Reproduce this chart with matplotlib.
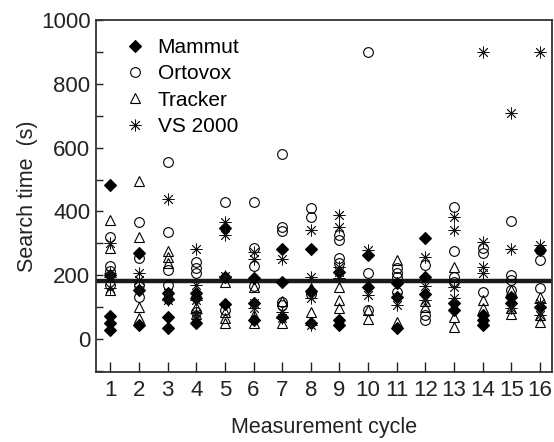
import numpy as np
import matplotlib
matplotlib.use("Agg")
import matplotlib.pyplot as plt
from matplotlib.ticker import MultipleLocator

plt.rcParams['font.family'] = ['Liberation Sans', 'DejaVu Sans']

# search times (s) per measurement cycle, one inner list per cycle
cycles = list(range(1, 17))

mammut = [[483, 200, 72, 49, 30], [270, 154, 44], [144, 125, 70, 34], [144, 128, 50],
          [347, 195, 110], [190, 112, 60], [281, 180, 70], [281, 150, 50],
          [210, 60, 44], [263, 164], [176, 133, 34], [316, 195, 140],
          [112, 91], [75, 60, 44], [133, 112], [280, 101]]

ortovox = [[319, 228, 215, 170], [368, 254, 169, 133], [556, 336, 216, 169], [242, 222, 207, 85],
           [430, 91], [430, 287, 229, 167], [580, 352, 340, 117, 107], [410, 383, 140],
           [326, 310, 253, 237], [900, 206, 91], [222, 206, 195, 148], [232, 75, 60],
           [415, 276, 195, 180], [284, 269, 148], [371, 200, 185, 154], [279, 248, 159]]

tracker = [[373, 285, 154], [496, 321, 101, 66], [277, 258, 238], [148, 101, 78, 66],
           [180, 86, 65, 49], [164, 75, 50], [120, 50], [160, 86],
           [164, 122, 96], [91, 63], [248, 54], [101, 120],
           [227, 70, 38], [122, 96], [154, 96, 80], [133, 75, 54]]

vs2000 = [[301, 207, 195, 160], [207, 185, 154], [438, 144, 122], [281, 169, 122, 81],
          [368, 326, 197], [274, 250, 112, 97], [252, 86, 65], [342, 195, 130, 45],
          [389, 352, 227, 211, 190], [279, 138], [133, 107], [256, 165, 122],
          [383, 342, 164, 128], [900, 305, 227, 206], [708, 281, 96], [900, 295, 112, 75]]

mean_time = 182


def flat(series):
    xs, ys = [], []
    for c, vals in zip(cycles, series):
        xs += [c] * len(vals)
        ys += vals
    return xs, ys


fig = plt.figure(figsize=(5.54, 4.42), dpi=100)
ax = fig.add_axes([0.1733, 0.1584, 0.8231, 0.7964])

ax.axhline(mean_time, color='#1a1a1a', lw=3.2, zorder=1)

styles = [
    (mammut, 'Mammut', dict(marker='D', ms=6.5, mfc='black', mec='black', mew=0.8)),
    (ortovox, 'Ortovox', dict(marker='o', ms=7, mfc='none', mec='black', mew=0.8)),
    (tracker, 'Tracker', dict(marker='^', ms=7.5, mfc='none', mec='black', mew=0.8)),
    (vs2000, 'VS 2000', dict(marker=(8, 2, 0), ms=8.5, mec='#111111', mew=0.6)),
]
for series, name, st in styles:
    xs, ys = flat(series)
    ax.plot(xs, ys, ls='none', label=name, zorder=3, **st)

ax.set_xlim(0.5, 16.42)
ax.set_ylim(-103, 1000)
ax.set_xticks(cycles)
ax.yaxis.set_major_locator(MultipleLocator(200))
ax.yaxis.set_minor_locator(MultipleLocator(100))
ax.tick_params(axis='both', which='both', direction='in', labelsize=16,
               colors='#222222', width=1.0)
ax.tick_params(axis='x', length=7, pad=6)
ax.tick_params(axis='y', which='major', length=5, pad=4)
ax.tick_params(axis='y', which='minor', length=5)
for s in ax.spines.values():
    s.set_linewidth(1.3)
    s.set_color('#333333')

ax.set_xlabel('Measurement cycle', fontsize=15.5, color='#222222', labelpad=11)
ax.set_ylabel('Search time  (s)', fontsize=15.5, color='#222222', labelpad=2)

ax.legend(loc='upper left', frameon=False, fontsize=15, handletextpad=0.6,
          borderaxespad=0.3, labelspacing=0.35, bbox_to_anchor=(0.03, 0.99),
          handlelength=1.0)

fig.savefig('out.png', dpi=100)
